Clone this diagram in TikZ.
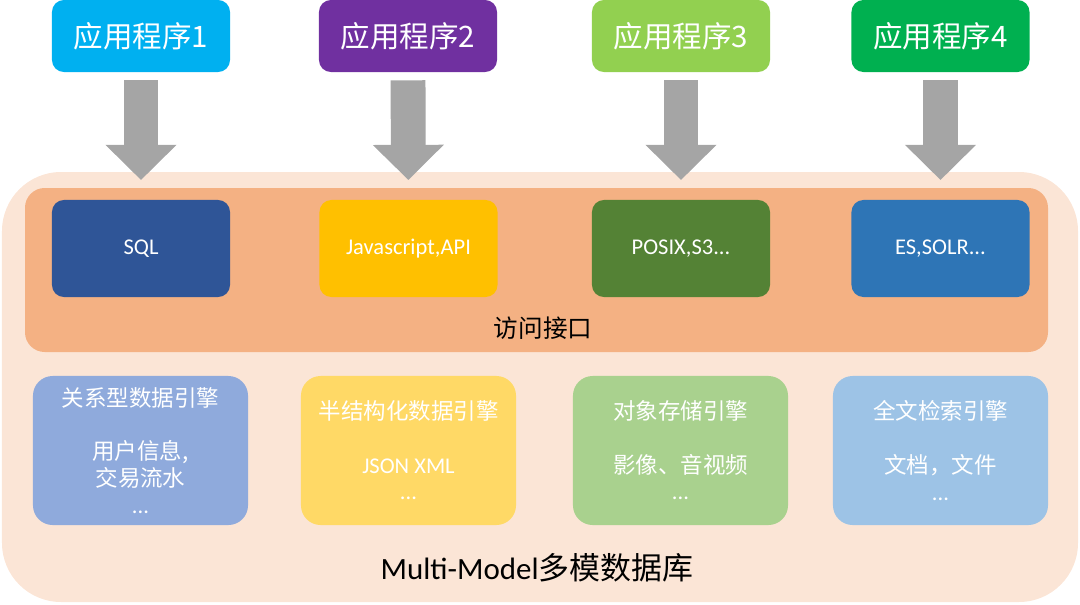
\documentclass[tikz,border=0pt]{standalone}
\usepackage{fontspec}
\setmainfont{Carlito}
\newfontfamily\cjk{Noto Sans CJK SC}
\usetikzlibrary{arrows.meta}

\definecolor{appA}{HTML}{00B0F0}
\definecolor{appB}{HTML}{7030A0}
\definecolor{appC}{HTML}{92D050}
\definecolor{appD}{HTML}{00B050}
\definecolor{apiA}{HTML}{2F5597}
\definecolor{apiB}{HTML}{FFC000}
\definecolor{apiC}{HTML}{548235}
\definecolor{apiD}{HTML}{2E75B6}
\definecolor{engA}{HTML}{8FAADC}
\definecolor{engB}{HTML}{FFD966}
\definecolor{engC}{HTML}{A9D18E}
\definecolor{engD}{HTML}{9DC3E6}
\definecolor{dbpeach}{HTML}{FBE5D6}
\definecolor{ifaceorange}{HTML}{F4B183}
\definecolor{arrowgray}{HTML}{A5A5A5}

\begin{document}
\begin{tikzpicture}[x=0.025cm, y=-0.025cm,
  appbox/.style={rounded corners=8.5pt, minimum width=4.45cm, minimum height=1.8cm,
    text=white, font=\cjk\fontsize{21}{24}\selectfont},
  apibox/.style={rounded corners=8.5pt, minimum width=4.45cm, minimum height=2.425cm,
    text=white, font=\fontsize{16}{19}\selectfont},
  engbox/.style={rounded corners=14pt, minimum width=5.375cm, minimum height=3.725cm,
    text=white, align=center, font=\cjk\fontsize{16}{19}\selectfont},
  bigarrow/.style={arrowgray, line width=24.8pt, -{Triangle[width=49pt, length=25pt]},
    shorten <=5.7pt, shorten >=14pt}]
  \useasboundingbox (0,0) rectangle (1080,605);
  % Multi-Model database and access layer
  \fill[dbpeach, rounded corners=42pt] (2,172) rectangle (1078,602);
  \fill[ifaceorange, rounded corners=14pt] (25,188) rectangle (1048,352);
  % applications
  \node[appbox, fill=appA] (app1) at (141,36) {应用程序1};
  \node[appbox, fill=appB] (app2) at (408,36) {应用程序2};
  \node[appbox, fill=appC] (app3) at (681,36) {应用程序3};
  \node[appbox, fill=appD] (app4) at (940.5,36) {应用程序4};
  % access interfaces
  \node[apibox, fill=apiA] (api1) at (141,248.5) {SQL};
  \node[apibox, fill=apiB] (api2) at (408.5,248.5) {Javascript,API};
  \node[apibox, fill=apiC] (api3) at (681,248.5) {POSIX,S3...};
  \node[apibox, fill=apiD] (api4) at (940.5,248.5) {ES,SOLR...};
  \node[font=\cjk\fontsize{17.5}{20}\selectfont] (iface) at (543,328) {访问接口};
  % arrows
  \draw[bigarrow] (app1.south) -- (api1.north);
  \draw[bigarrow] (app2.south) -- (api2.north);
  \draw[bigarrow] (app3.south) -- (api3.north);
  \draw[bigarrow] (app4.south) -- (api4.north);
  % engines
  \node[engbox, fill=engA] (eng1) at (140.5,450.5) {关系型数据引擎\\ \\ 用户信息,\\ 交易流水\\ {\rmfamily...}};
  \node[engbox, fill=engB] (eng2) at (408.5,450.5) {半结构化数据引擎\\ \\ {\rmfamily JSON XML}\\ {\rmfamily...}};
  \node[engbox, fill=engC] (eng3) at (680.5,450.5) {对象存储引擎\\ \\ 影像、音视频\\ {\rmfamily...}};
  \node[engbox, fill=engD] (eng4) at (940.5,450.5) {全文检索引擎\\ \\ 文档，文件\\ {\rmfamily...}};
  \node[font=\fontsize{22}{25}\selectfont] (db) at (537,568) {Multi-Model{\cjk 多模数据库}};
\end{tikzpicture}
\end{document}
